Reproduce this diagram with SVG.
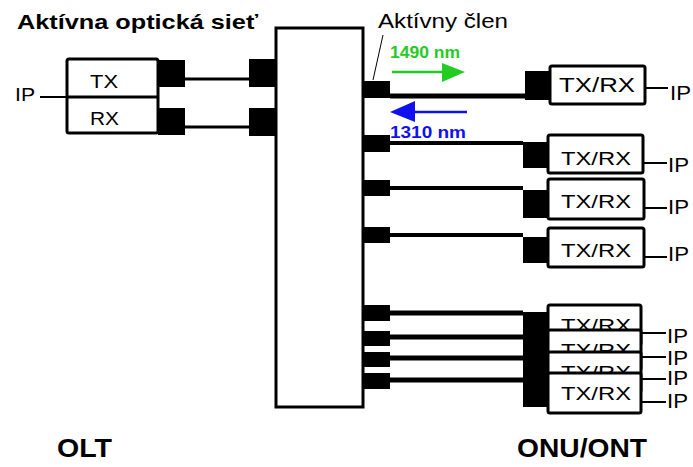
<svg xmlns="http://www.w3.org/2000/svg" width="693" height="467" viewBox="0 0 693 467">
<style>
.box{fill:#fff;stroke:#000;stroke-width:3}
.blk{fill:#000}
.ln{stroke:#000;fill:none}
.t{font-family:"Liberation Sans",Arial,sans-serif;fill:#000}
.b{font-weight:bold}
</style>
<rect width="693" height="467" fill="#fff"/>
<text class="t b" x="17" y="29" font-size="21" textLength="241" lengthAdjust="spacingAndGlyphs">Aktívna optická sieť</text>
<text class="t" x="378" y="28" font-size="20" textLength="130" lengthAdjust="spacingAndGlyphs">Aktívny člen</text>
<line class="ln" x1="383" y1="35" x2="373" y2="80" stroke-width="1"/>
<g id="olt">
<rect class="box" x="67" y="59" width="91" height="74" rx="2"/>
<line class="ln" x1="67" y1="97" x2="158" y2="97" stroke-width="3"/>
<text class="t" x="90" y="88" font-size="19" textLength="28" lengthAdjust="spacingAndGlyphs">TX</text>
<text class="t" x="90" y="125" font-size="19" textLength="29" lengthAdjust="spacingAndGlyphs">RX</text>
<rect class="blk" x="158" y="60" width="27" height="27"/>
<rect class="blk" x="158" y="108" width="27" height="27"/>
<line class="ln" x1="40" y1="97" x2="67" y2="97" stroke-width="2"/>
<text class="t" x="15" y="101" font-size="19" textLength="20" lengthAdjust="spacingAndGlyphs">IP</text>
</g>
<g id="active">
<rect x="276" y="28" width="87" height="379" fill="#fff" stroke="#000" stroke-width="3"/>
<rect class="blk" x="249" y="59" width="27" height="28"/>
<rect class="blk" x="249" y="108" width="27" height="28"/>
<rect class="blk" x="363" y="81" width="27" height="17"/>
<rect class="blk" x="363" y="135" width="27" height="17"/>
<rect class="blk" x="363" y="180" width="27" height="16"/>
<rect class="blk" x="363" y="227" width="27" height="16"/>
<rect class="blk" x="363" y="305" width="27" height="16"/>
<rect class="blk" x="363" y="331" width="27" height="15"/>
<rect class="blk" x="363" y="352" width="27" height="15"/>
<rect class="blk" x="363" y="373" width="27" height="16"/>
</g>
<g id="connectors">
<line class="ln" x1="185" y1="79" x2="249" y2="79" stroke-width="3"/>
<line class="ln" x1="185" y1="127" x2="249" y2="127" stroke-width="3"/>
<line class="ln" x1="390" y1="96" x2="525" y2="96" stroke-width="5"/>
<line class="ln" x1="390" y1="143" x2="523" y2="143" stroke-width="4"/>
<line class="ln" x1="390" y1="188" x2="523" y2="188" stroke-width="4"/>
<line class="ln" x1="390" y1="235" x2="523" y2="235" stroke-width="4"/>
<line class="ln" x1="390" y1="313" x2="523" y2="313" stroke-width="5"/>
<line class="ln" x1="390" y1="337" x2="523" y2="337" stroke-width="5"/>
<line class="ln" x1="390" y1="358" x2="523" y2="358" stroke-width="5"/>
<line class="ln" x1="390" y1="380" x2="523" y2="380" stroke-width="5"/>
</g>
<g id="wavelengths">
<text class="t b" x="390" y="58" font-size="16" style="fill:#22cc22" textLength="70" lengthAdjust="spacingAndGlyphs">1490 nm</text>
<line x1="392" y1="72" x2="445" y2="72" stroke="#22cc22" stroke-width="2.5"/>
<polygon points="442,63 465,72 442,82" fill="#22cc22"/>
<text class="t b" x="390" y="138" font-size="16" style="fill:#1010ee" textLength="76" lengthAdjust="spacingAndGlyphs">1310 nm</text>
<line x1="467" y1="112" x2="412" y2="112" stroke="#1010ee" stroke-width="2.5"/>
<polygon points="415,101 390,112 415,122" fill="#1010ee"/>
</g>
<g id="onu1">
<rect class="blk" x="525" y="71" width="25" height="29"/>
<rect class="box" x="550" y="66" width="95" height="38" rx="2"/>
<text class="t" x="597" y="92" font-size="20" text-anchor="middle" textLength="76" lengthAdjust="spacingAndGlyphs">TX/RX</text>
<line class="ln" x1="645" y1="88" x2="668" y2="88" stroke-width="2"/>
<text class="t" x="670" y="100" font-size="20" textLength="21" lengthAdjust="spacingAndGlyphs">IP</text>
</g>
<g id="onu2">
<rect class="blk" x="523" y="142" width="25" height="26"/>
<rect class="box" x="548" y="135" width="95" height="38" rx="2"/>
<text class="t" x="596" y="165" font-size="19" text-anchor="middle" textLength="70" lengthAdjust="spacingAndGlyphs">TX/RX</text>
<line class="ln" x1="643" y1="163" x2="667" y2="163" stroke-width="2"/>
<text class="t" x="668" y="172" font-size="20" textLength="21" lengthAdjust="spacingAndGlyphs">IP</text>
</g>
<g id="onu3">
<rect class="blk" x="523" y="190" width="25" height="28"/>
<rect class="box" x="548" y="179" width="96" height="40" rx="2"/>
<text class="t" x="596" y="208" font-size="19" text-anchor="middle" textLength="70" lengthAdjust="spacingAndGlyphs">TX/RX</text>
<line class="ln" x1="644" y1="208" x2="667" y2="208" stroke-width="2"/>
<text class="t" x="668" y="214" font-size="20" textLength="21" lengthAdjust="spacingAndGlyphs">IP</text>
</g>
<g id="onu4">
<rect class="blk" x="523" y="237" width="25" height="26"/>
<rect class="box" x="548" y="228" width="96" height="39" rx="2"/>
<text class="t" x="596" y="257" font-size="19" text-anchor="middle" textLength="70" lengthAdjust="spacingAndGlyphs">TX/RX</text>
<line class="ln" x1="644" y1="257" x2="667" y2="257" stroke-width="2"/>
<text class="t" x="668" y="261" font-size="20" textLength="21" lengthAdjust="spacingAndGlyphs">IP</text>
</g>
<g id="onu-group">
<rect class="blk" x="523" y="312" width="25" height="95"/>
<g id="onu5">
<rect class="box" x="548" y="305" width="93" height="40" rx="2"/>
<text class="t" x="596" y="332" font-size="19" text-anchor="middle" textLength="70" lengthAdjust="spacingAndGlyphs">TX/RX</text>
</g>
<g id="onu6">
<rect class="box" x="548" y="330" width="93" height="40" rx="2"/>
<text class="t" x="596" y="357" font-size="19" text-anchor="middle" textLength="70" lengthAdjust="spacingAndGlyphs">TX/RX</text>
</g>
<g id="onu7">
<rect class="box" x="548" y="352" width="93" height="40" rx="2"/>
<text class="t" x="596" y="379" font-size="19" text-anchor="middle" textLength="70" lengthAdjust="spacingAndGlyphs">TX/RX</text>
</g>
<g id="onu8">
<rect class="box" x="548" y="373" width="93" height="40" rx="2"/>
<text class="t" x="596" y="400" font-size="19" text-anchor="middle" textLength="70" lengthAdjust="spacingAndGlyphs">TX/RX</text>
</g>
<line class="ln" x1="641" y1="333" x2="666" y2="333" stroke-width="2"/>
<line class="ln" x1="641" y1="357" x2="666" y2="357" stroke-width="2"/>
<line class="ln" x1="641" y1="379" x2="666" y2="379" stroke-width="2"/>
<line class="ln" x1="641" y1="402" x2="666" y2="402" stroke-width="2"/>
<text class="t" x="667" y="343" font-size="20" textLength="21" lengthAdjust="spacingAndGlyphs">IP</text>
<text class="t" x="667" y="365" font-size="20" textLength="21" lengthAdjust="spacingAndGlyphs">IP</text>
<text class="t" x="667" y="385" font-size="20" textLength="21" lengthAdjust="spacingAndGlyphs">IP</text>
<text class="t" x="667" y="408" font-size="20" textLength="21" lengthAdjust="spacingAndGlyphs">IP</text>
</g>
<text class="t b" x="57" y="457" font-size="26" textLength="55" lengthAdjust="spacingAndGlyphs">OLT</text>
<text class="t b" x="517" y="457" font-size="26" textLength="130" lengthAdjust="spacingAndGlyphs">ONU/ONT</text>
</svg>
